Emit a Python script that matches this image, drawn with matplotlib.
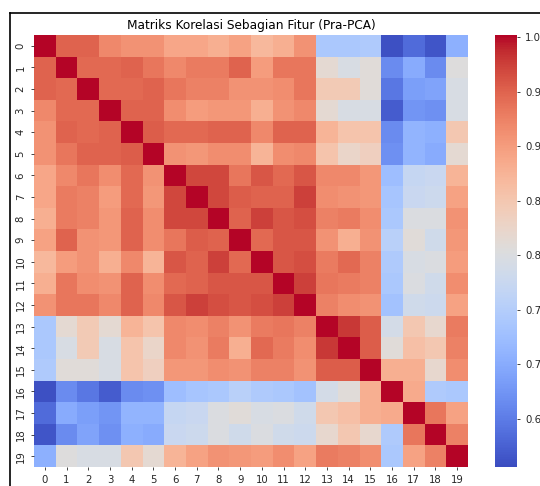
import numpy as np
import matplotlib
matplotlib.use("Agg")
import matplotlib.pyplot as plt
from matplotlib.lines import Line2D

# feature indices shown on both axes
features = [str(i) for i in range(20)]

# upper triangle of the correlation matrix (row i, columns i+1..19)
upper = [
    [.90, .90, .87, .86, .86, .84, .84, .83, .845, .82, .83, .86, .69, .69, .695, .56, .585, .565, .655],
    [.895, .895, .90, .885, .87, .88, .88, .90, .85, .885, .885, .765, .745, .76, .615, .65, .615, .755],
    [.895, .895, .90, .885, .875, .875, .86, .86, .865, .885, .795, .795, .76, .595, .635, .64, .745],
    [.90, .90, .865, .85, .855, .855, .83, .86, .87, .765, .745, .745, .57, .625, .62, .745],
    [.905, .895, .895, .90, .90, .87, .90, .90, .825, .805, .805, .615, .66, .655, .80],
    [.86, .855, .865, .865, .825, .865, .87, .805, .775, .785, .62, .66, .65, .765],
    [.92, .92, .885, .91, .895, .91, .87, .87, .855, .675, .72, .725, .825],
    [.92, .905, .90, .90, .925, .865, .86, .855, .685, .725, .73, .845],
    [.90, .925, .91, .915, .875, .88, .865, .69, .75, .75, .86],
    [.895, .91, .91, .86, .83, .86, .705, .76, .735, .855],
    [.91, .915, .88, .895, .875, .695, .745, .75, .85],
    [.925, .885, .88, .875, .69, .75, .735, .865],
    [.875, .865, .86, .68, .735, .73, .845],
    [.93, .905, .74, .80, .77, .88],
    [.905, .76, .81, .80, .875],
    [.83, .83, .77, .865],
    [.835, .695, .69],
    [.885, .845],
    [.875],
]

cbar_ticks = [0.60, 0.65, 0.70, 0.75, 0.80, 0.85, 0.90, 0.95]
cbar_labels = ["0.6", "0.7", "0.7", "0.8", "0.8", "0.9", "0.9", "1.0"]

n = len(features)
corr = np.eye(n)
for i, row in enumerate(upper):
    for k, v in enumerate(row):
        j = i + 1 + k
        corr[i, j] = v
        corr[j, i] = v

fig = plt.figure(figsize=(5.4, 4.86), dpi=100)
ax = fig.add_axes([34 / 540, 19 / 486, 434 / 540, 432 / 486])
cax = fig.add_axes([495 / 540, 19 / 486, 22 / 540, 432 / 486])

mesh = ax.pcolormesh(corr, cmap="coolwarm", vmin=0.556, vmax=0.952)
ax.set_xlim(0, n)
ax.set_ylim(n, 0)
ax.set_xticks(np.arange(n) + 0.5)
ax.set_xticklabels(features)
ax.set_yticks(np.arange(n) + 0.5)
ax.set_yticklabels(features, rotation=90, va="center")
ax.tick_params(labelsize=7.3, length=2.5, width=0.6, colors="#262626")
for s in ax.spines.values():
    s.set_visible(False)
ax.set_title("Matriks Korelasi Sebagian Fitur (Pra-PCA)", fontsize=8.7, pad=4)

cb = fig.colorbar(mesh, cax=cax)
cb.set_ticks(cbar_ticks)
cb.set_ticklabels(cbar_labels)
cb.ax.tick_params(labelsize=7.3, length=2.5, width=0.6, colors="#262626")
cb.outline.set_visible(False)

# frame lines from the original screenshot
fig.add_artist(Line2D([10 / 540, 10 / 540], [0, 1 - 13 / 486], transform=fig.transFigure,
                      color="black", linewidth=1.2))
fig.add_artist(Line2D([10 / 540, 1], [1 - 13 / 486, 1 - 13 / 486], transform=fig.transFigure,
                      color="black", linewidth=1.2))

fig.savefig("out.png", dpi=100)
